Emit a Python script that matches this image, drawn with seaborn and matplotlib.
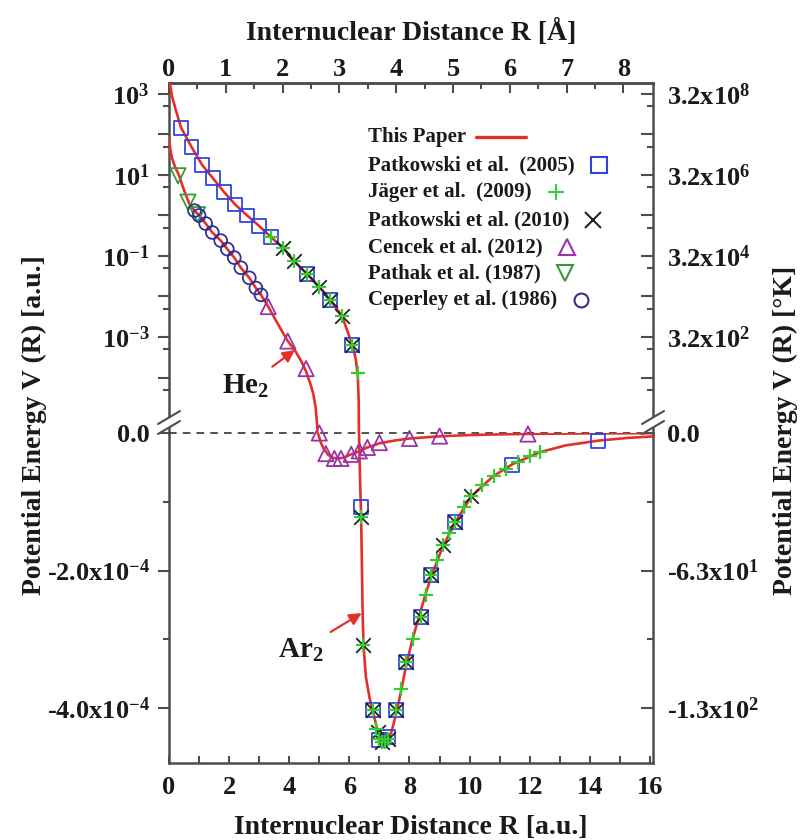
import numpy as np
import matplotlib
matplotlib.use("Agg")
import matplotlib.pyplot as plt
import seaborn as sns
from matplotlib.lines import Line2D
from matplotlib.patches import Polygon
from matplotlib.markers import MarkerStyle
from matplotlib.ticker import FixedLocator, NullFormatter

# ----------------------------- data -----------------------------
# "This Paper" curves. Upper (log) panel: log10 V [a.u.]; lower (linear) panel: V in 1e-4 a.u.
he2_wall_R = [0.0, 0.05, 0.1, 0.2, 0.33, 0.5, 0.67, 0.85, 1.0, 1.22, 1.44, 1.72, 1.94, 2.17, 2.39,
              2.67, 2.89, 3.06, 3.3, 3.6, 3.95, 4.19, 4.4, 4.56, 4.7, 4.8, 4.88, 4.93, 4.95]
he2_wall_logV = [1.9, 1.6, 1.42, 1.2, 1.0, 0.62, 0.3, 0.12, 0.0, -0.2, -0.42, -0.62, -0.83, -1.04, -1.29,
                 -1.54, -1.79, -1.96, -2.25, -2.65, -3.1, -3.33, -3.6, -3.85, -4.15, -4.4, -4.75, -5.2, -5.8]
he2_well_R = [4.95, 4.99, 5.05, 5.15, 5.3, 5.45, 5.6, 5.8, 6.0, 6.3, 6.6, 7.0, 7.5, 8.0, 9.0, 10.0,
              11.0, 12.0, 14.0, 16.1]
he2_well_V = [0.0, -0.05, -0.14, -0.23, -0.32, -0.36, -0.37, -0.36, -0.32, -0.27, -0.21, -0.15, -0.11,
              -0.08, -0.048, -0.03, -0.02, -0.013, -0.006, -0.003]

ar2_wall_R = [0.0, 0.1, 0.22, 0.4, 0.75, 1.1, 1.45, 1.83, 2.2, 2.6, 3.0, 3.4, 3.8, 4.15, 4.6, 5.0,
              5.35, 5.75, 6.1, 6.22, 6.28, 6.31, 6.318]
ar2_wall_logV = [3.4, 2.95, 2.62, 2.17, 1.69, 1.25, 0.93, 0.58, 0.27, 0.0, -0.26, -0.54, -0.8, -1.12,
                 -1.45, -1.76, -2.08, -2.47, -3.2, -3.57, -3.96, -4.57, -5.5]
ar2_well_R = [6.32, 6.34, 6.37, 6.39, 6.42, 6.44, 6.47, 6.55, 6.67, 6.78, 6.95, 7.1, 7.25, 7.4, 7.56,
              7.72, 7.89, 8.1, 8.33, 8.55, 8.78, 9.11, 9.56, 10.06, 10.78, 11.44, 12.33, 13.2, 14.3,
              15.3, 16.1]
ar2_well_V = [0.0, -0.4, -0.9, -1.2, -2.0, -2.6, -3.08, -3.55, -3.85, -4.05, -4.35, -4.5, -4.48, -4.35,
              -4.08, -3.75, -3.38, -3.0, -2.65, -2.32, -2.02, -1.65, -1.27, -0.92, -0.63, -0.45, -0.28,
              -0.18, -0.11, -0.07, -0.05]

# Patkowski et al. (2005) - Ar2
p05_up_R = [0.4, 0.75, 1.1, 1.45, 1.83, 2.2, 2.6, 3.0, 3.4, 4.6, 5.35, 6.1]
p05_up_logV = [2.17, 1.69, 1.25, 0.93, 0.58, 0.27, 0.0, -0.26, -0.54, -1.45, -2.08, -3.2]
p05_lo_R = [6.39, 6.78, 7.0, 7.28, 7.56, 7.89, 8.39, 8.72, 9.5, 11.4, 14.27]
p05_lo_V = [-1.07, -4.03, -4.47, -4.42, -4.03, -3.33, -2.67, -2.07, -1.29, -0.47, -0.12]

# Jaeger et al. (2009) - Ar2
j09_up_R = [3.4, 3.8, 4.15, 4.6, 5.0, 5.35, 5.75, 6.1, 6.28]
j09_up_logV = [-0.54, -0.8, -1.12, -1.45, -1.76, -2.08, -2.47, -3.2, -3.9]
j09_lo_R = [6.39, 6.46, 6.78, 6.9, 7.0, 7.1, 7.2, 7.3, 7.56, 7.72, 7.89, 8.1, 8.39, 8.55, 8.72, 8.9,
            9.11, 9.3, 9.5, 9.8, 10.06, 10.4, 10.8, 11.2, 11.6, 12.0, 12.33]
j09_lo_V = [-1.22, -3.08, -4.03, -4.3, -4.45, -4.5, -4.5, -4.45, -4.03, -3.72, -3.33, -3.0, -2.67,
            -2.35, -2.07, -1.85, -1.63, -1.45, -1.29, -1.08, -0.92, -0.76, -0.63, -0.52, -0.42, -0.33,
            -0.27]

# Patkowski et al. (2010) - Ar2
p10_up_R = [3.8, 4.15, 4.6, 5.0, 5.35, 5.75, 6.1]
p10_up_logV = [-0.8, -1.12, -1.45, -1.76, -2.08, -2.47, -3.2]
p10_lo_R = [6.39, 6.46, 6.78, 6.95, 7.1, 7.3, 7.56, 7.89, 8.39, 8.72, 9.11, 9.5, 10.06]
p10_lo_V = [-1.22, -3.08, -4.03, -4.35, -4.5, -4.45, -4.03, -3.33, -2.67, -2.07, -1.63, -1.29, -0.92]

# Cencek et al. (2012) - He2
c12_up_R = [3.3, 3.95, 4.56]
c12_up_logV = [-2.25, -3.1, -3.78]
c12_lo_R = [5.0, 5.22, 5.5, 5.72, 6.06, 6.33, 6.6, 7.0, 8.0, 9.0, 11.94]
c12_lo_V = [0.0, -0.3, -0.37, -0.37, -0.31, -0.26, -0.21, -0.14, -0.08, -0.045, -0.015]

# Pathak et al. (1987) - He2
p87_R = [0.3, 0.63, 0.95]
p87_logV = [0.98, 0.33, 0.02]

# Ceperley et al. (1986) - He2
c86_R = [0.85, 1.0, 1.22, 1.44, 1.72, 1.94, 2.17, 2.39, 2.67, 2.89, 3.06]
c86_logV = [0.12, 0.0, -0.2, -0.42, -0.62, -0.83, -1.04, -1.29, -1.54, -1.79, -1.96]

# tick values / labels
x_au_ticks = [0, 2, 4, 6, 8, 10, 12, 14, 16]
x_ang_ticks = [0, 1, 2, 3, 4, 5, 6, 7, 8]
up_major = [1e3, 1e2, 1e1, 1e0, 1e-1, 1e-2, 1e-3, 1e-4]
up_left_labels = [r"10$^{3}$", "", r"10$^{1}$", "", r"10$^{-1}$", "", r"10$^{-3}$", ""]
up_right_labels = [r"3.2x10$^{8}$", "", r"3.2x10$^{6}$", "", r"3.2x10$^{4}$", "", r"3.2x10$^{2}$", ""]
up_minor = [5e2, 5e1, 5e0, 5e-1, 5e-2, 5e-3, 5e-4, 5e-5]
lo_major = [0.0, -2e-4, -4e-4]
lo_left_labels = ["0.0", r"-2.0x10$^{-4}$", r"-4.0x10$^{-4}$"]
lo_right_labels = ["0.0", r"-6.3x10$^{1}$", r"-1.3x10$^{2}$"]
lo_minor = [-1e-4, -3e-4]

legend_labels = ["This Paper", "Patkowski et al.  (2005)", "J\u00e4ger et al.  (2009)",
                 "Patkowski et al. (2010)", "Cencek et al. (2012)", "Pathak et al. (1987)",
                 "Ceperley et al. (1986)"]

AU_PER_ANG = 1.8897

# ----------------------------- style -----------------------------
sns.set_theme(style="white")
plt.rcParams["font.family"] = ["Liberation Serif", "DejaVu Serif"]
plt.rcParams["font.weight"] = "bold"
plt.rcParams["mathtext.fontset"] = "custom"
plt.rcParams["mathtext.rm"] = "Liberation Serif:bold"
plt.rcParams["mathtext.bf"] = "Liberation Serif:bold"
plt.rcParams["mathtext.it"] = "Liberation Serif:bold:italic"
plt.rcParams["mathtext.default"] = "bf"
plt.rcParams["text.color"] = "#1a1a1a"

RED = "#e5302a"
BLUE = "#3344dd"
GREEN = "#33cc33"
BLACK = "#222222"
PURPLE = "#9a32a8"
DGREEN = "#3a9a3a"
NAVY = "#33308f"
SP = "#4d4d4d"
TXT = "#1a1a1a"
CURVE_LW = 1.9

W, H = 807, 840
fig = plt.figure(figsize=(W / 100, H / 100), dpi=100)


def rect(l, t, r, b):
    return [l / W, 1 - b / H, (r - l) / W, (b - t) / H]


ax_up = fig.add_axes(rect(169, 83, 653, 433))
ax_lo = fig.add_axes(rect(169, 433, 653, 763))
XMAX = 16.1

for ax in (ax_up, ax_lo):
    ax.set_facecolor("none")
    for s in ax.spines.values():
        s.set_color(SP)
        s.set_linewidth(1.8)
ax_up.spines["bottom"].set_visible(False)
ax_lo.spines["top"].set_visible(False)

# ---------------- upper (log) panel ----------------
ax_up.set_yscale("log")
ylim_up = (10 ** -5.37, 10 ** 3.27)


def lv(a):
    return 10 ** np.asarray(a, dtype=float)


def E4(a):
    return np.asarray(a, dtype=float) * 1e-4


ofs = MarkerStyle("s", fillstyle="none")
oft = MarkerStyle("^", fillstyle="none")
ofv = MarkerStyle("v", fillstyle="none")
ofo = MarkerStyle("o", fillstyle="none")

sns.lineplot(x=he2_wall_R, y=lv(he2_wall_logV), ax=ax_up, color=RED, lw=CURVE_LW, sort=False, estimator=None, zorder=3)
sns.lineplot(x=ar2_wall_R, y=lv(ar2_wall_logV), ax=ax_up, color=RED, lw=CURVE_LW, sort=False, estimator=None, zorder=3)

sns.scatterplot(x=p05_up_R, y=lv(p05_up_logV), ax=ax_up, marker=ofs, s=100, color=BLUE, linewidth=1.3, zorder=4)
sns.scatterplot(x=p10_up_R, y=lv(p10_up_logV), ax=ax_up, marker="x", s=110, color=BLACK, linewidth=1.3, zorder=5)
sns.scatterplot(x=j09_up_R, y=lv(j09_up_logV), ax=ax_up, marker="+", s=110, color=GREEN, linewidth=1.6, zorder=6)
sns.scatterplot(x=c12_up_R, y=lv(c12_up_logV), ax=ax_up, marker=oft, s=120, color=PURPLE, linewidth=1.3, zorder=4)
sns.scatterplot(x=p87_R, y=lv(p87_logV), ax=ax_up, marker=ofv, s=120, color=DGREEN, linewidth=1.3, zorder=4)
sns.scatterplot(x=c86_R, y=lv(c86_logV), ax=ax_up, marker=ofo, s=85, color=NAVY, linewidth=1.3, zorder=4)

ax_up.set_xlim(0, XMAX)
ax_up.set_ylim(*ylim_up)
ax_up.set_xlabel("")
ax_up.set_ylabel("")
ax_up.yaxis.set_major_locator(FixedLocator(up_major))
ax_up.set_yticklabels(up_left_labels)
ax_up.yaxis.set_minor_locator(FixedLocator(up_minor))
ax_up.yaxis.set_minor_formatter(NullFormatter())
ax_up.tick_params(axis="y", which="major", direction="out", length=8, width=1.5, color=SP,
                  labelsize=19, pad=6, left=True, right=False, labelcolor=TXT)
ax_up.tick_params(axis="y", which="minor", direction="out", length=4, width=1.5, color=SP,
                  left=True, right=False)
ax_up.tick_params(axis="x", which="both", bottom=False, top=False, labelbottom=False, labeltop=False)

sec = ax_up.secondary_xaxis("top", functions=(lambda r: np.asarray(r) / AU_PER_ANG,
                                               lambda a: np.asarray(a) * AU_PER_ANG))
sec.set_xticks(x_ang_ticks)
sec.set_xticklabels([str(v) for v in x_ang_ticks])
sec.xaxis.set_minor_locator(FixedLocator([v + 0.5 for v in x_ang_ticks[:-1]]))
sec.tick_params(which="major", direction="in", length=7, width=1.5, color=SP, labelsize=19, pad=1.5,
                labelcolor=TXT)
sec.tick_params(which="minor", direction="in", length=4, width=1.5, color=SP)
for s in sec.spines.values():
    s.set_color(SP)
    s.set_linewidth(1.8)

ax_upR = ax_up.twinx()
ax_upR.set_yscale("log")
ax_upR.set_ylim(*ylim_up)
for s in ax_upR.spines.values():
    s.set_visible(False)
ax_upR.yaxis.set_major_locator(FixedLocator(up_major))
ax_upR.set_yticklabels(up_right_labels)
ax_upR.yaxis.set_minor_locator(FixedLocator(up_minor))
ax_upR.yaxis.set_minor_formatter(NullFormatter())
ax_upR.tick_params(axis="y", which="major", direction="in", length=9, width=1.5, color=SP,
                   labelsize=19, pad=10, labelcolor=TXT)
ax_upR.tick_params(axis="y", which="minor", direction="in", length=4, width=1.5, color=SP)

# ---------------- lower (linear) panel ----------------
ax_lo.axhline(0.0, color="#222222", lw=1.1, ls=(0, (5, 4)), zorder=1, clip_on=False)
sns.lineplot(x=he2_well_R, y=E4(he2_well_V), ax=ax_lo, color=RED, lw=CURVE_LW, sort=False, estimator=None, zorder=3)
sns.lineplot(x=ar2_well_R, y=E4(ar2_well_V), ax=ax_lo, color=RED, lw=CURVE_LW, sort=False, estimator=None, zorder=3)

sns.scatterplot(x=p05_lo_R, y=E4(p05_lo_V), ax=ax_lo, marker=ofs, s=100, color=BLUE, linewidth=1.3, zorder=4, clip_on=False)
sns.scatterplot(x=c12_lo_R, y=E4(c12_lo_V), ax=ax_lo, marker=oft, s=120, color=PURPLE, linewidth=1.3, zorder=4, clip_on=False)
sns.scatterplot(x=p10_lo_R, y=E4(p10_lo_V), ax=ax_lo, marker="x", s=110, color=BLACK, linewidth=1.3, zorder=5, clip_on=False)
sns.scatterplot(x=j09_lo_R, y=E4(j09_lo_V), ax=ax_lo, marker="+", s=110, color=GREEN, linewidth=1.6, zorder=6, clip_on=False)

ax_lo.set_xlim(0, XMAX)
ax_lo.set_ylim(-4.8e-4, 0.0)
ax_lo.set_xlabel("")
ax_lo.set_ylabel("")
ax_lo.set_xticks(x_au_ticks)
ax_lo.set_xticklabels([str(v) for v in x_au_ticks])
ax_lo.xaxis.set_minor_locator(FixedLocator([v + 1 for v in x_au_ticks[:-1]]))
ax_lo.tick_params(axis="x", which="both", direction="in", length=5, width=1.5, color=SP,
                  labelsize=19, pad=9, top=False, bottom=True, labelcolor=TXT)
ax_lo.yaxis.set_major_locator(FixedLocator(lo_major))
ax_lo.set_yticklabels(lo_left_labels)
ax_lo.yaxis.set_minor_locator(FixedLocator(lo_minor))
ax_lo.tick_params(axis="y", which="major", direction="out", length=8, width=1.5, color=SP,
                  labelsize=19, pad=6, left=True, right=False, labelcolor=TXT)
ax_lo.tick_params(axis="y", which="minor", direction="out", length=4, width=1.5, color=SP,
                  left=True, right=False)

ax_loR = ax_lo.twinx()
ax_loR.set_ylim(-4.8e-4, 0.0)
for s in ax_loR.spines.values():
    s.set_visible(False)
ax_loR.yaxis.set_major_locator(FixedLocator(lo_major))
ax_loR.set_yticklabels(lo_right_labels)
ax_loR.yaxis.set_minor_locator(FixedLocator(lo_minor))
ax_loR.tick_params(axis="y", which="major", direction="in", length=9, width=1.5, color=SP,
                   labelsize=19, pad=10, labelcolor=TXT)
ax_loR.tick_params(axis="y", which="minor", direction="in", length=4, width=1.5, color=SP)


# ---------------- axis breaks ----------------
def P(x, y):
    return (x / W, 1 - y / H)


for xc in (169, 653):
    a1, a2 = P(xc - 11, 424), P(xc + 11, 411)
    b1, b2 = P(xc - 11, 434), P(xc + 11, 421)
    fig.add_artist(Polygon([a1, a2, b2, b1], closed=True, transform=fig.transFigure,
                           facecolor="white", edgecolor="none", zorder=20))
    for p1, p2 in ((a1, a2), (b1, b2)):
        fig.add_artist(Line2D([p1[0], p2[0]], [p1[1], p2[1]], transform=fig.transFigure,
                              color=SP, lw=1.5, zorder=21))

# ---------------- annotations ----------------
ax_up.annotate(r"He$_{2}$", xy=(4.19, 10 ** -3.32), xytext=(246, H - 386), textcoords="figure pixels",
               ha="center", va="center", fontsize=21, color=TXT,
               arrowprops=dict(arrowstyle="-|>", color=RED, lw=1.6, mutation_scale=18, shrinkA=3, shrinkB=0))
ax_lo.annotate(r"Ar$_{2}$", xy=(6.41, -2.62e-4), xytext=(301, H - 650), textcoords="figure pixels",
               ha="center", va="center", fontsize=21, color=TXT,
               arrowprops=dict(arrowstyle="-|>", color=RED, lw=1.6, mutation_scale=18, shrinkA=3, shrinkB=0))

# ---------------- axis titles ----------------
fig.text(411 / W, 1 - 828 / H, "Internuclear Distance R [a.u.]", ha="center", va="center", fontsize=20, color=TXT)
fig.text(411 / W, 1 - 32 / H, "Internuclear Distance R [\u00c5]", ha="center", va="center", fontsize=20, color=TXT)
fig.text(34 / W, 1 - 425 / H, "Potential Energy V (R) [a.u.]", ha="center", va="center", rotation=90,
         fontsize=20, color=TXT)
fig.text(785 / W, 1 - 430 / H, "Potential Energy V (R) [\u00b0K]", ha="center", va="center", rotation=90,
         fontsize=20, color=TXT)

# ---------------- legend (text followed by its marker) ----------------
rows_y = [137, 165, 192, 220, 247, 273, 300]
handles = [
    dict(kind="line", color=RED),
    dict(marker="s", color=BLUE, ms=11, fill="none"),
    dict(marker="+", color=GREEN, ms=12, fill="full"),
    dict(marker="x", color=BLACK, ms=11, fill="full"),
    dict(marker="^", color=PURPLE, ms=12, fill="none"),
    dict(marker="v", color=DGREEN, ms=12, fill="none"),
    dict(marker="o", color=NAVY, ms=10, fill="none"),
]
renderer = fig.canvas.get_renderer()
for lab, yy, hd in zip(legend_labels, rows_y, handles):
    t = fig.text(368 / W, 1 - yy / H, lab, ha="left", va="center", fontsize=15, color=TXT)
    bb = t.get_window_extent(renderer=renderer)
    xend = bb.x1
    if hd.get("kind") == "line":
        fig.add_artist(Line2D([(xend + 10) / W, (xend + 60) / W], [1 - yy / H, 1 - yy / H],
                              transform=fig.transFigure, color=hd["color"], lw=2.4))
    else:
        fig.add_artist(Line2D([(xend + 24) / W], [1 - yy / H], transform=fig.transFigure,
                              marker=hd["marker"], ms=hd["ms"], mec=hd["color"], mfc="none",
                              fillstyle=hd["fill"], mew=1.5, ls="none", color=hd["color"]))

fig.savefig("out.png", dpi=100)
